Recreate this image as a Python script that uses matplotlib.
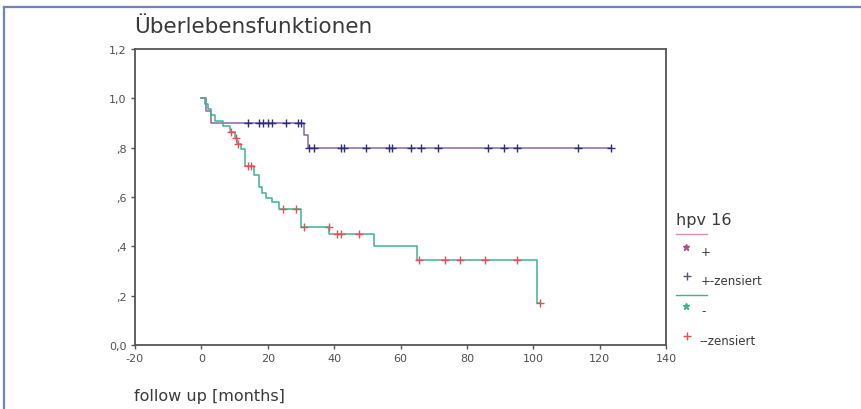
import numpy as np
import matplotlib
matplotlib.use('Agg')
import matplotlib.pyplot as plt
from matplotlib.lines import Line2D

# ---- data ----
pos_event_t = [0, 1.5, 3, 31, 32]
pos_surv = [1.0, 0.95, 0.90, 0.85, 0.80]
pos_cens = [14, 17.4, 18.5, 20, 21.2, 25.4, 29, 30, 32.4, 34, 42, 43, 49.5,
            56.5, 57.5, 63.2, 66.2, 71.4, 86.4, 91.2, 95, 113.4, 123.4]
pos_end = 123.4

neg_event_t = [0, 1, 2, 3, 4, 6.5, 8.5, 10.2, 10.8, 12, 13, 16, 17.5, 18.4,
               19.5, 21.4, 23.5, 30, 38.6, 52, 65, 101]
neg_surv = [1.0, 0.977, 0.955, 0.932, 0.909, 0.886, 0.863, 0.838, 0.815, 0.793,
            0.725, 0.69, 0.64, 0.615, 0.595, 0.58, 0.553, 0.48, 0.452, 0.40,
            0.345, 0.172]
neg_cens = [9, 10.4, 10.9, 14, 15, 24.5, 28.5, 31, 38.4, 41, 42, 47.5, 65.5,
            73.5, 78, 85.5, 95, 102]
neg_end = 102

x_ticks = [-20, 0, 20, 40, 60, 80, 100, 120, 140]
y_ticks = [0.0, 0.2, 0.4, 0.6, 0.8, 1.0, 1.2]
y_tick_labels = ['0,0', ',2', ',4', ',6', ',8', '1,0', '1,2']

title = 'Überlebensfunktionen'
xlabel = 'follow up [months]'
legend_title = 'hpv 16'
legend_labels = ['+', '+-zensiert', '-', '--zensiert']

# ---- styles ----
pos_line = '#8a64a8'
pos_cens_c = '#2c2f78'
neg_line = '#3fb38f'
neg_cens_c = '#e0525a'
axis_c = '#555555'
text_c = '#3a3a3a'

W, H = 861, 410
fig = plt.figure(figsize=(W / 100, H / 100), dpi=100)
fig.patch.set_facecolor('white')


def fx(px):
    return px / W


def fy(py):
    return 1 - py / H


ax = fig.add_axes([fx(135), fy(346), fx(666) - fx(135), fy(50) - fy(346)])


def surv_at(times, surv, t):
    i = np.searchsorted(times, t, side='right') - 1
    return np.array(surv)[i]


def draw(times, surv, end, cens, lc, cc):
    xs = list(times) + [end]
    ys = list(surv) + [surv[-1]]
    ax.step(xs, ys, where='post', color=lc, lw=1.1, zorder=2)
    cy = [surv_at(times, surv, c) for c in cens]
    ax.plot(cens, cy, linestyle='none', marker='+', ms=5.5, mew=1.0,
            color=cc, zorder=3)


draw(pos_event_t, pos_surv, pos_end, pos_cens, pos_line, pos_cens_c)
draw(neg_event_t, neg_surv, neg_end, neg_cens, neg_line, neg_cens_c)

ax.set_xlim(-20, 140)
ax.set_ylim(0, 1.2)
ax.set_xticks(x_ticks)
ax.set_xticklabels([str(v) for v in x_ticks])
ax.set_yticks(y_ticks)
ax.set_yticklabels(y_tick_labels)
ax.tick_params(direction='out', length=3, width=1, colors=axis_c,
               labelsize=8, labelcolor='#505050', pad=3)
for s in ax.spines.values():
    s.set_color(axis_c)
    s.set_linewidth(1.3)

fig.text(fx(134), fy(27), title, fontsize=15.5, color=text_c,
         ha='left', va='center')
fig.text(fx(134), fy(397), xlabel, fontsize=11.5, color=text_c,
         ha='left', va='center')

# legend
fig.text(fx(676), fy(221), legend_title, fontsize=11.5, color=text_c,
         ha='left', va='center')
fig.add_artist(Line2D([fx(676), fx(707)], [fy(235)] * 2, color='#d88fb0',
                      lw=1, transform=fig.transFigure))
fig.add_artist(Line2D([fx(686)], [fy(248)], marker='*', ms=5, color='#b0508a',
                      linestyle='none', transform=fig.transFigure))
fig.text(fx(701), fy(253), legend_labels[0], fontsize=8.5, color=text_c,
         ha='left', va='center')
fig.add_artist(Line2D([fx(687)], [fy(277)], marker='+', ms=6, mew=1,
                      color='#555577', linestyle='none',
                      transform=fig.transFigure))
fig.text(fx(701), fy(282), legend_labels[1], fontsize=8.5, color=text_c,
         ha='left', va='center')
fig.add_artist(Line2D([fx(676), fx(707)], [fy(296)] * 2, color=neg_line,
                      lw=1, transform=fig.transFigure))
fig.add_artist(Line2D([fx(686)], [fy(307)], marker='*', ms=5, color=neg_line,
                      linestyle='none', transform=fig.transFigure))
fig.text(fx(701), fy(312), legend_labels[2], fontsize=8.5, color=text_c,
         ha='left', va='center')
fig.add_artist(Line2D([fx(687)], [fy(337)], marker='+', ms=6, mew=1,
                      color=neg_cens_c, linestyle='none',
                      transform=fig.transFigure))
fig.text(fx(699), fy(342), legend_labels[3], fontsize=8.5, color=text_c,
         ha='left', va='center')

# outer frame (top and left)
fig.add_artist(Line2D([fx(4), 1], [fy(8)] * 2, color='#7282b4', lw=1.6,
                      transform=fig.transFigure))
fig.add_artist(Line2D([fx(4)] * 2, [fy(8), 0], color='#7282b4', lw=1.6,
                      transform=fig.transFigure))

fig.savefig('out.png', dpi=100)
